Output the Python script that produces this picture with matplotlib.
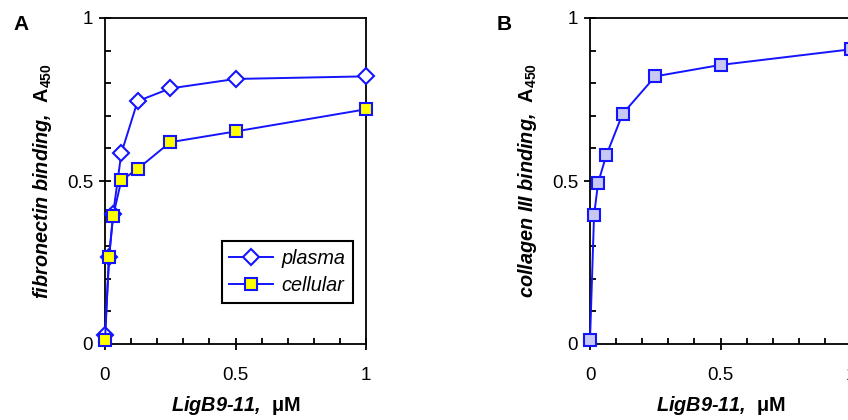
import numpy as np
import matplotlib
matplotlib.use("Agg")
import matplotlib.pyplot as plt
from matplotlib.ticker import MultipleLocator

# ── Datos ─────────────────────────────────────────────────────────────────────
conc = [0, 0.0156, 0.03125, 0.0625, 0.125, 0.25, 0.5, 1.0]       # LigB9-11, µM
fn_plasma   = [0.028, 0.267, 0.400, 0.585, 0.745, 0.784, 0.813, 0.821]
fn_cellular = [0.012, 0.267, 0.393, 0.502, 0.537, 0.619, 0.652, 0.720]
col3        = [0.012, 0.396, 0.495, 0.579, 0.706, 0.821, 0.856, 0.904]

# ── Estilo ────────────────────────────────────────────────────────────────────
plt.rcParams["font.family"] = ["Liberation Sans", "DejaVu Sans"]
plt.rcParams["mathtext.fontset"] = "custom"
plt.rcParams["mathtext.rm"] = "Liberation Sans:bold"
plt.rcParams["mathtext.bf"] = "Liberation Sans:bold"
plt.rcParams["mathtext.it"] = "Liberation Sans:italic"

AZUL = "#1414ff"
FS = 13.5
FS_LAB = 14.3
LW_EJE = 1.3

fig = plt.figure(figsize=(8.48, 4.2), dpi=100)
ax_a = fig.add_axes([105 / 848, 76 / 420, 261 / 848, 326 / 420])
ax_b = fig.add_axes([590 / 848, 76 / 420, 261 / 848, 326 / 420])


def formato(ax, ylabel):
    ax.set_xlim(0, 1)
    ax.set_ylim(0, 1)
    ax.xaxis.set_major_locator(MultipleLocator(0.5))
    ax.yaxis.set_major_locator(MultipleLocator(0.5))
    ax.xaxis.set_minor_locator(MultipleLocator(0.1))
    ax.yaxis.set_minor_locator(MultipleLocator(0.1))
    ax.xaxis.set_major_formatter(plt.FuncFormatter(lambda v, p: f"{v:g}"))
    ax.yaxis.set_major_formatter(plt.FuncFormatter(lambda v, p: f"{v:g}"))
    ax.tick_params(which="major", direction="inout", length=9, width=LW_EJE,
                   labelsize=FS, color="black")
    ax.tick_params(which="minor", direction="in", length=4, width=LW_EJE)
    ax.tick_params(axis="x", which="major", pad=12)
    ax.tick_params(axis="y", which="major", pad=4)
    for s in ax.spines.values():
        s.set_linewidth(LW_EJE)
    ax.set_xlabel("LigB9-11,  $\\mathrm{μM}$", fontsize=FS_LAB, fontweight="bold",
                  style="italic", labelpad=7)
    ax.set_ylabel(ylabel + ",  $\\mathbf{A_{450}}$", fontsize=FS_LAB,
                  fontweight="bold", style="italic", labelpad=9)


# ── Panel A ───────────────────────────────────────────────────────────────────
ax_a.plot(conc, fn_plasma, color=AZUL, lw=1.4, marker="D", ms=8.5,
          mfc="white", mec=AZUL, mew=1.5, label="plasma", zorder=3,
          clip_on=False)
ax_a.plot(conc, fn_cellular, color=AZUL, lw=1.4, marker="s", ms=8.5,
          mfc="#ffff00", mec=AZUL, mew=1.5, label="cellular", zorder=4,
          clip_on=False)
formato(ax_a, "fibronectin binding")
leg = ax_a.legend(loc="lower right", bbox_to_anchor=(0.95, 0.126),
                  borderaxespad=0, fancybox=False, framealpha=1,
                  prop={"size": FS_LAB, "style": "italic"}, handlelength=2.2,
                  borderpad=0.4, labelspacing=0.4, handletextpad=0.4)
leg.get_frame().set_edgecolor("black")
leg.get_frame().set_linewidth(1.5)

# ── Panel B ───────────────────────────────────────────────────────────────────
ax_b.plot(conc, col3, color=AZUL, lw=1.4, marker="s", ms=8.5,
          mfc="#c8c8f4", mec=AZUL, mew=1.5, zorder=3, clip_on=False)
formato(ax_b, "collagen III binding")

fig.text(13 / 848, 1 - 30 / 420, "A", fontsize=15, fontweight="bold")
fig.text(497 / 848, 1 - 30 / 420, "B", fontsize=15, fontweight="bold")

fig.savefig("out.png", dpi=100)
